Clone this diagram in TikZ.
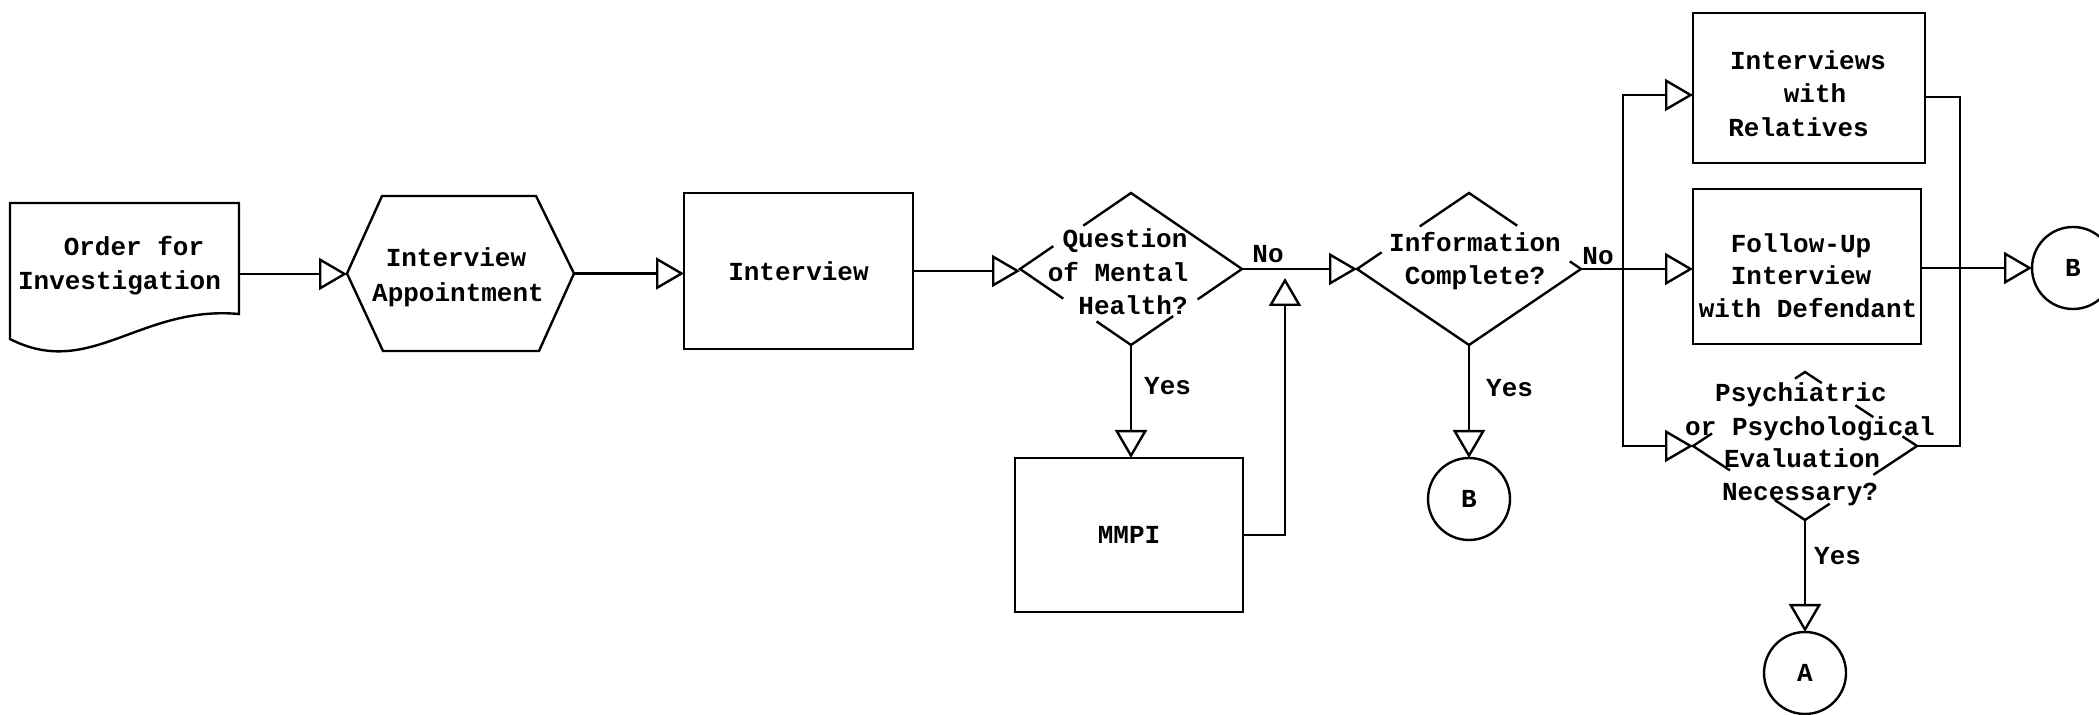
\documentclass[tikz,border=0pt]{standalone}
\usepackage{fontspec}
\newfontfamily\tw{Liberation Mono}
\usetikzlibrary{arrows.meta,calc}
\begin{document}
\begin{tikzpicture}[x=0.5pt,y=-0.5pt,
  line width=1.2pt,
  tfont/.style={font=\tw\bfseries\fontsize{13}{15}\selectfont},
  txt/.style={tfont, anchor=base, inner sep=0pt},
  lbl/.style={tfont, anchor=base west, inner sep=0pt},
  box/.style={tfont, draw, rectangle, inner sep=0pt, outer sep=0pt},
  frame/.style={rectangle, inner sep=0pt, outer sep=0pt},
  conn/.style={tfont, circle, draw, minimum size=41pt, inner sep=0pt, outer sep=0pt},
  arr/.style={-{Triangle[open,length=14pt,width=16pt]}},
]
\useasboundingbox (0,0) rectangle (2099,715);

% ---- frames / boxes ----
\node[frame, minimum width=114.5pt, minimum height=71pt] (doc) at (124.5,274) {};
\node[frame, minimum width=113.5pt, minimum height=77.5pt] (hex) at (460.5,273.5) {};
\node[box, minimum width=114.5pt, minimum height=78pt] (int) at (798.5,271) {Interview};
\node[frame, minimum width=111pt, minimum height=76pt] (q) at (1131,269) {};
\node[frame, minimum width=112pt, minimum height=76pt] (info) at (1469,269) {};
\node[box, minimum width=114pt, minimum height=77pt] (mmpi) at (1129,535) {MMPI};
\node[conn] (b1) at (1469,499) {B};
\node[box, minimum width=116pt, minimum height=75pt] (rel) at (1809,88) {};
\node[box, minimum width=114pt, minimum height=77.5pt] (fu) at (1807,266.5) {};
\node[frame, minimum width=112pt, minimum height=74pt] (ps) at (1805,446) {};
\node[conn] (b2) at (2073,268) {B};
\node[conn] (a) at (1805,673) {A};

% ---- document shape ----
\draw (doc.north west) -- (doc.north east) -- ($(doc.north east)+(0,111)$)
  .. controls (140,305) and (90,380) .. ($(doc.north west)+(0,136)$) -- cycle;
% ---- hexagon ----
\draw (hex.west) -- ($(hex.north west)+(35,0)$) -- ($(hex.north east)+(-38,0)$)
  -- (hex.east) -- ($(hex.south east)+(-35,0)$) -- ($(hex.south west)+(36,0)$) -- cycle;
% ---- diamond Q (with gaps) ----
\draw ($(q.west)!0.30!(q.north)$) -- (q.west) -- ($(q.west)!0.39!(q.south)$);
\draw ($(q.west)!0.57!(q.north)$) -- (q.north) -- (q.east) -- ($(q.east)!0.40!(q.south)$);
\draw ($(q.east)!0.62!(q.south)$) -- (q.south) -- ($(q.south)!0.31!(q.west)$);
% ---- diamond Info ----
\draw ($(info.west)!0.22!(info.north)$) -- (info.west) -- (info.south) -- (info.east)
  -- ($(info.east)!0.10!(info.north)$);
\draw ($(info.west)!0.56!(info.north)$) -- (info.north) -- ($(info.north)!0.43!(info.east)$);
% ---- diamond Psych ----
\draw ($(ps.west)!0.17!(ps.north)$) -- (ps.west) -- ($(ps.west)!0.33!(ps.south)$);
\draw ($(ps.west)!0.91!(ps.north)$) -- (ps.north) -- ($(ps.north)!0.15!(ps.east)$);
\draw ($(ps.north)!0.45!(ps.east)$) -- ($(ps.north)!0.61!(ps.east)$);
\draw ($(ps.north)!0.87!(ps.east)$) -- (ps.east) -- ($(ps.east)!0.39!(ps.south)$);
\draw ($(ps.east)!0.78!(ps.south)$) -- (ps.south) -- ($(ps.south)!0.27!(ps.west)$);

% ---- texts ----
\node[txt] (t1) at (134,256) {Order for};
\node[txt] (t2) at (119.5,290) {Investigation};
\node[txt] (t3) at (456,267) {Interview};
\node[txt] (t4) at (458,302) {Appointment};
\node[txt] (t5) at (1125,248) {Question};
\node[txt] (t6) at (1118,282) {of Mental};
\node[txt] (t7) at (1133,315) {Health?};
\node[txt] (t8) at (1475,252) {Information};
\node[txt] (t9) at (1475,285) {Complete?};
\node[txt] (t10) at (1808,70) {Interviews};
\node[txt] (t11) at (1815,103) {with};
\node[txt] (t12) at (1798.5,137) {Relatives};
\node[txt] (t13) at (1801,253) {Follow-Up};
\node[txt] (t14) at (1801,285) {Interview};
\node[txt] (t15) at (1808,318) {with Defendant};
\node[txt] (t16) at (1801,402) {Psychiatric};
\node[txt] (t17) at (1810,436) {or Psychological};
\node[txt] (t18) at (1802,468) {Evaluation};
\node[txt] (t19) at (1800,501) {Necessary?};
\node[txt] (no1) at (1268,263) {No};
\node[txt] (no2) at (1598,265) {No};
\node[lbl] (yes1) at (1143,395) {Yes};
\node[lbl] (yes2) at (1485,397) {Yes};
\node[lbl] (yes3) at (1813,565) {Yes};

% ---- connectors ----
\coordinate (mj) at (1285,270);
\coordinate (sl) at (1623,269);
\coordinate (sr) at (1960,268);
\draw[arr] (doc.east) -- (hex.west |- doc.east);
\draw[arr] (hex.east) -- (int.west |- hex.east);
\draw[arr] (int.east) -- (q.west |- int.east);
\draw[arr] (q.east) -- (info.west |- q.east);
\draw[arr] (q.south) -- (q.south |- mmpi.north);
\draw[arr] (mmpi.east) -| ($(mj)+(0,8)$);
\draw[arr] (info.south) -- (b1.north);
\draw (info.east) -- (sl);
\draw[arr] (sl) |- ($(rel.west)+(0,7)$);
\draw[arr] (sl) -- (fu.west |- sl);
\draw[arr] (sl) |- (ps.west);
\draw ($(rel.east)+(0,9)$) -| (sr);
\draw (ps.east) -| (sr);
\draw (fu.east |- sr) -- (sr);
\draw[arr] (sr) -- (b2.west);
\draw[arr] (ps.south) -- (a.north);
\end{tikzpicture}
\end{document}
